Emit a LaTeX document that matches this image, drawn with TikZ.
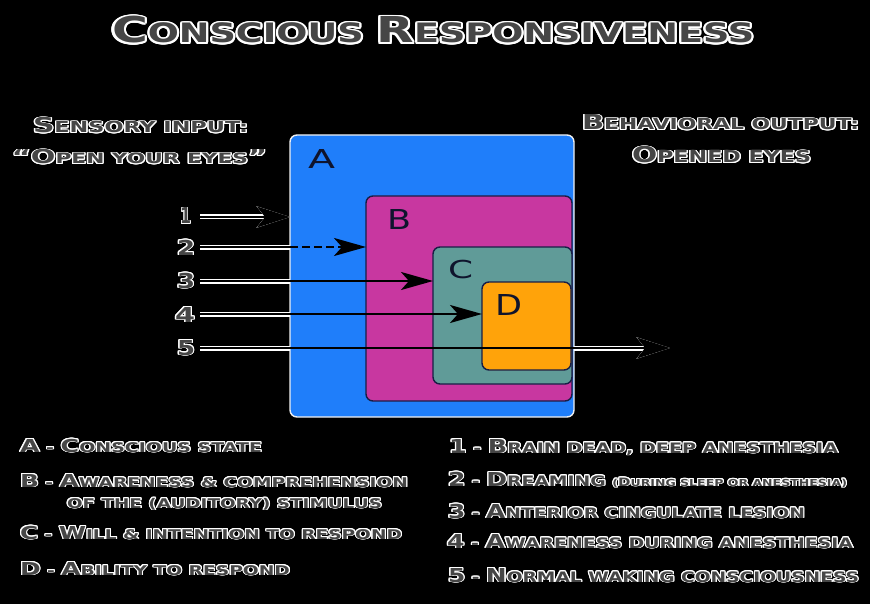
\documentclass[tikz,border=0pt]{standalone}
\usepackage{fontspec}
\setmainfont{DejaVu Sans}
\usepackage{graphicx}
\usepackage{contour}
\usetikzlibrary{arrows.meta}
\contourlength{0.45pt}
\contournumber{16}
\definecolor{tfill}{RGB}{70,70,70}
\definecolor{cA}{RGB}{31,126,250}
\definecolor{cB}{RGB}{200,55,160}
\definecolor{cC}{RGB}{96,155,152}
\definecolor{cD}{RGB}{255,163,10}
\definecolor{bord}{RGB}{25,30,70}
\definecolor{lbl}{RGB}{15,20,45}
\newcommand\B[1]{{\fontsize{10}{12}\selectfont #1}}
\newcommand\tnS{\fontsize{5}{6}\selectfont}
\newcommand\tnB[1]{{\fontsize{6}{7}\selectfont #1}}
\newcommand\OT[3]{\resizebox{#1}{#2}{\raisebox{0pt}[7.29pt][0pt]{\contour{white}{\color{tfill}#3}}}}
\newcommand\LB[3]{\resizebox{#1}{#2}{\raisebox{0pt}[7.29pt][0pt]{\color{lbl}#3}}}
\tikzset{
  txt/.style={anchor=south west, inner sep=0pt, outer sep=0pt, font=\bfseries\fontsize{7.5}{9}\selectfont},
  lettr/.style={anchor=south west, inner sep=0pt, outer sep=0pt, font=\fontsize{10}{12}\selectfont},
  box/.style={rectangle, rounded corners=7pt, inner sep=0pt, outer sep=0pt, anchor=north west, line width=1.4pt, draw=bord},
  halo/.style={white, line width=5pt},
  arr/.style={black, line width=2.6pt},
  hd/.style={-{Stealth[length=33pt,width=21pt,inset=8pt]}},
  hds/.style={-{Stealth[length=32pt,width=18pt,inset=8pt]}}
}
\begin{document}
\begin{tikzpicture}[x=1pt,y=-1pt]
\fill[black] (0,0) rectangle (870,604);
\useasboundingbox (0,0) rectangle (870,604);
% boxes
\node[box, fill=cA, draw=white!88!gray, minimum width=284pt, minimum height=282pt] (A) at (290,135) {};
\node[box, fill=cB, minimum width=206pt, minimum height=205pt] (B) at (366,196) {};
\node[box, fill=cC, minimum width=139pt, minimum height=137pt] (C) at (433,247) {};
\node[box, fill=cD, minimum width=89pt, minimum height=88pt] (D) at (482,282) {};
% box letters
\node[lettr] (lA) at (308,169) {\LB{27pt}{19pt}{A}};
\node[lettr] (lB) at (387,230) {\LB{24pt}{20pt}{B}};
\node[lettr] (lC) at (448,279) {\LB{25pt}{18pt}{C}};
\node[lettr] (lD) at (495,315) {\LB{27pt}{21pt}{D}};
% arrow coordinates
\coordinate (s1) at (200,217);
\coordinate (s2) at (200,247);
\coordinate (s3) at (200,281);
\coordinate (s4) at (200,314);
\coordinate (s5) at (200,348);
\coordinate (e5) at (670,348);
% halos outside the boxes
\draw[halo, hd] (s1) -- (s1 -| A.west);
\draw[halo] (s2) -- (s2 -| A.west);
\draw[halo] (s3) -- (s3 -| A.west);
\draw[halo] (s4) -- (s4 -| A.west);
\draw[halo] (s5) -- (s5 -| A.west);
\draw[halo, hd] (s5 -| A.east) -- (e5);
% arrows
\draw[arr, hd] (s1) -- (s1 -| A.west);
\draw[arr] (s2) -- (s2 -| A.west);
\draw[arr, hds, dash pattern=on 8pt off 4pt] (s2 -| A.west) -- (s2 -| B.west);
\draw[arr, hds] (s3) -- (s3 -| C.west);
\draw[arr, hds] (s4) -- (s4 -| D.west);
\draw[arr, hd] (s5) -- (e5);
% arrow numbers
\node[txt] (n1) at (180,224) {\OT{11pt}{16pt}{\B{1}}};
\node[txt] (n2) at (177,255) {\OT{18pt}{15pt}{\B{2}}};
\node[txt] (n3) at (177,288) {\OT{18pt}{15pt}{\B{3}}};
\node[txt] (n4) at (175,322) {\OT{20pt}{15pt}{\B{4}}};
\node[txt] (n5) at (177,355) {\OT{18pt}{15pt}{\B{5}}};
% title and headings
\node[txt] (title) at (112,43) {\OT{642pt}{26pt}{\B{C}ONSCIOUS \B{R}ESPONSIVENESS}};
\node[txt] (in1) at (33,133) {\OT{215pt}{15pt}{\B{S}ENSORY INPUT:}};
\node[txt] (in2) at (12,164) {\OT{255pt}{14pt}{\B{“}\B{O}PEN YOUR EYES\B{”}}};
\node[txt] (out1) at (582,130) {\OT{277pt}{15pt}{\B{B}EHAVIORAL OUTPUT:}};
\node[txt] (out2) at (632,163) {\OT{179pt}{16pt}{\B{O}PENED EYES}};
% left legend
\node[txt] (LA) at (20,452) {\OT{242pt}{13pt}{\B{A} - \B{C}ONSCIOUS STATE}};
\node[txt] (LB1) at (20,487) {\OT{388pt}{13pt}{\B{B} - \B{A}WARENESS \& COMPREHENSION}};
\node[txt] (LB2) at (67,508) {\OT{315pt}{13pt}{OF THE (AUDITORY) STIMULUS}};
\node[txt] (LC) at (20,539) {\OT{382pt}{13pt}{\B{C} - \B{W}ILL \& INTENTION TO RESPOND}};
\node[txt] (LD) at (20,575) {\OT{270pt}{13pt}{\B{D} - \B{A}BILITY TO RESPOND}};
% right legend
\node[txt] (R1) at (449,453) {\OT{389pt}{14pt}{\B{1} - \B{B}RAIN DEAD, DEEP ANESTHESIA}};
\node[txt] (R2) at (448,486) {\OT{399pt}{14pt}{\B{2} - \B{D}REAMING {\tnS(\tnB{D}URING SLEEP OR ANESTHESIA)}}};
\node[txt] (R3) at (448,518) {\OT{357pt}{14pt}{\B{3} - \B{A}NTERIOR CINGULATE LESION}};
\node[txt] (R4) at (447,548) {\OT{406pt}{14pt}{\B{4} - \B{A}WARENESS DURING ANESTHESIA}};
\node[txt] (R5) at (448,582) {\OT{411pt}{14pt}{\B{5} - \B{N}ORMAL WAKING CONSCIOUSNESS}};
\end{tikzpicture}
\end{document}
